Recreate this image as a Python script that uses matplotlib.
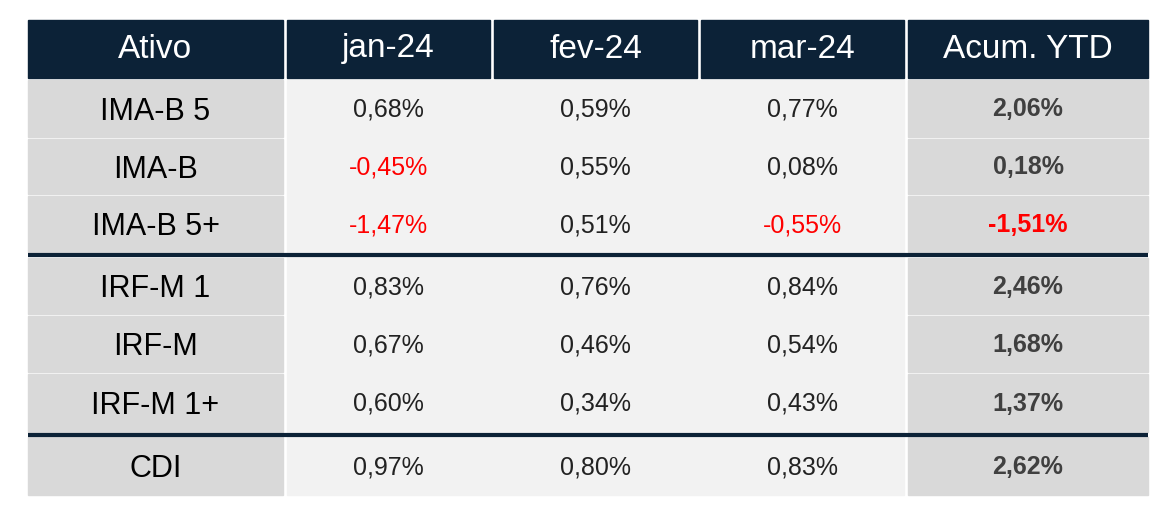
import matplotlib.pyplot as plt
from matplotlib.patches import Rectangle

plt.rcParams['font.family'] = ['Liberation Sans', 'DejaVu Sans']

headers = ['Ativo', 'jan-24', 'fev-24', 'mar-24', 'Acum. YTD']
assets = ['IMA-B 5', 'IMA-B', 'IMA-B 5+', 'IRF-M 1', 'IRF-M', 'IRF-M 1+', 'CDI']
jan = [0.68, -0.45, -1.47, 0.83, 0.67, 0.60, 0.97]
fev = [0.59, 0.55, 0.51, 0.76, 0.46, 0.34, 0.80]
mar = [0.77, 0.08, -0.55, 0.84, 0.54, 0.43, 0.83]
ytd = [2.06, 0.18, -1.51, 2.46, 1.68, 1.37, 2.62]

navy = '#0c2237'
gray = '#d9d9d9'
light = '#f2f2f2'

col_x = [(28, 283), (287, 490), (494, 697), (701, 904), (908, 1148)]
row_y = [(80, 137), (139, 194), (196, 252), (258, 314), (316, 372), (374, 432), (437, 495)]

fig = plt.figure(figsize=(11.6, 5.08), dpi=100)
ax = fig.add_axes([0, 0, 1, 1])
ax.set_xlim(0, 1160)
ax.set_ylim(508, 0)
ax.axis('off')

def fmt(v):
    return f'{v:.2f}%'.replace('.', ',')

# header
for (x0, x1), h in zip(col_x, headers):
    ax.add_patch(Rectangle((x0, 20), x1 - x0, 58, color=navy))
    ax.text((x0 + x1) / 2, 49, h, color='white', fontsize=24, ha='center', va='center')

# light background of middle columns
ax.add_patch(Rectangle((287, 80), 617, 415, color=light))

cols = [jan, fev, mar]
for i, (y0, y1) in enumerate(row_y):
    yc = (y0 + y1) / 2 + 3
    ax.add_patch(Rectangle((col_x[0][0], y0), col_x[0][1] - col_x[0][0], y1 - y0, color=gray))
    ax.add_patch(Rectangle((col_x[4][0], y0), col_x[4][1] - col_x[4][0], y1 - y0, color=gray))
    ax.text(sum(col_x[0]) / 2, yc, assets[i], fontsize=22, ha='center', va='center', color='black')
    for j, vals in enumerate(cols):
        v = vals[i]
        ax.text(sum(col_x[j + 1]) / 2, yc - 2, fmt(v), fontsize=18, ha='center', va='center',
                color='#ff0000' if v < 0 else '#222222')
    v = ytd[i]
    ax.text(sum(col_x[4]) / 2, yc - 2, fmt(v), fontsize=18, ha='center', va='center',
            fontweight='bold', color='#ff0000' if v < 0 else '#404040')

# group separators
for y in (255, 434.5):
    ax.plot([28, 1148], [y, y], color=navy, lw=3, solid_capstyle='butt')

fig.savefig('out.png', dpi=100, facecolor='white')
